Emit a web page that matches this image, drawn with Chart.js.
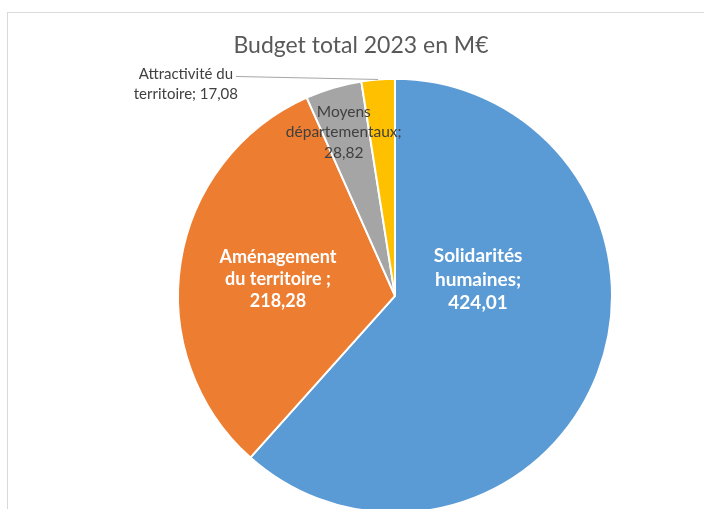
<!DOCTYPE html>
<html>
<head>
<meta charset="utf-8">
<script src="https://cdn.jsdelivr.net/npm/chart.js@4/dist/chart.umd.min.js"></script>
<style>
    html, body { margin: 0; padding: 0; background: #fff; overflow: hidden; }
    #frame { position: absolute; left: 7px; top: 12px; width: 716px; height: 530px; border: 1px solid #d9d9d9; box-sizing: border-box; }
    #chart-box { position: absolute; left: 0; top: 0; width: 706px; height: 511px; }
</style>
</head>
<body>
<div id="frame"><div id="chart-box"><canvas id="budget-chart"></canvas></div></div>
<script>
const categories = [["Solidarités", "humaines"], ["Aménagement", "du territoire "], ["Moyens", "départementaux"], ["Attractivité du", "territoire"]];
const budgetValues = [424.01, 218.28, 28.82, 17.08];
const sliceColors = ["#5b9bd5", "#ed7d31", "#a5a5a5", "#ffc000"];
const chartTitle = "Budget total 2023 en M€";

// where each data label sits: angle (deg) and distance as a share of the radius
const labelPlacement = [
    { angle: -10.9, dist: 0.39, color: "#ffffff", bold: true, size: 19, lineHeight: 23.5 },
    { angle: 188.3, dist: 0.545, color: "#ffffff", bold: true, size: 18, lineHeight: 22 },
    { angle: -107.4, dist: 0.79, color: "#404040", bold: false, size: 15.5, lineHeight: 20.5 },
    { angle: -134.7, dist: 1.37, color: "#404040", bold: false, size: 15, lineHeight: 20, inline: true, leader: true }
];

function formatValue(value) {
    return Number(value).toLocaleString("fr-FR", { minimumFractionDigits: 2, maximumFractionDigits: 2 });
}

function labelLines(index) {
    const lines = [...categories[index]];
    const last = lines.length - 1;
    if (labelPlacement[index].inline) {
        lines[last] = `${lines[last]}; ${formatValue(budgetValues[index])}`;
    } else {
        lines[last] = `${lines[last]};`;
        lines.push(formatValue(budgetValues[index]));
    }
    return lines;
}

// empty box on the left so the pie sits right of the title's centre
const pieShift = {
    id: "pieShift",
    beforeInit(chart, args, opts) {
        Chart.layouts.addBox(chart, {
            position: "left", weight: 100, fullSize: false, options: {},
            width: 0, height: 0, top: 0, left: 0, right: 0, bottom: 0,
            isHorizontal: () => false,
            update(maxWidth, maxHeight) { this.width = opts.width; this.height = maxHeight; },
            draw() {}
        });
    }
};

const sliceLabels = {
    id: "sliceLabels",
    afterDatasetsDraw(chart) {
        const { ctx } = chart;
        chart.getDatasetMeta(0).data.forEach((arc, index) => {
            const { x, y, outerRadius, startAngle, endAngle } = arc.getProps(["x", "y", "outerRadius", "startAngle", "endAngle"], true);
            const place = labelPlacement[index];
            const angle = place.angle * Math.PI / 180;
            const cx = x + Math.cos(angle) * outerRadius * place.dist;
            const cy = y + Math.sin(angle) * outerRadius * place.dist;
            const lines = labelLines(index);
            ctx.save();
            ctx.font = `${place.bold ? "bold " : ""}${place.size}px Lato, "Open Sans", sans-serif`;
            ctx.fillStyle = place.color;
            ctx.textAlign = "center";
            ctx.textBaseline = "middle";
            const top = cy - (lines.length - 1) * place.lineHeight / 2;
            lines.forEach((line, i) => ctx.fillText(line, cx, top + i * place.lineHeight));
            if (place.leader) {
                const mid = (startAngle + endAngle) / 2;
                const width = ctx.measureText(lines[0]).width;
                ctx.strokeStyle = "#a6a6a6";
                ctx.lineWidth = 1;
                ctx.beginPath();
                ctx.moveTo(cx + width / 2 + 3, top + 2);
                ctx.lineTo(x + Math.cos(mid) * outerRadius, y + Math.sin(mid) * outerRadius);
                ctx.stroke();
            }
            ctx.restore();
        });
    }
};

new Chart(document.querySelector("#budget-chart"), {
    type: "pie",
    data: {
        labels: categories,
        datasets: [{ data: budgetValues, backgroundColor: sliceColors, borderColor: "#ffffff", borderWidth: 2, clip: false }]
    },
    options: {
        responsive: true,
        maintainAspectRatio: false,
        animation: false,
        radius: 217,
        events: [],
        plugins: {
            pieShift: { width: 68 },
            legend: { display: false },
            tooltip: { enabled: false },
            title: {
                display: true,
                text: chartTitle,
                color: "#595959",
                font: { family: "Lato, 'Open Sans', sans-serif", size: 23, weight: "normal", lineHeight: 1.2 },
                padding: { top: 19, bottom: 8 }
            }
        }
    },
    plugins: [pieShift, sliceLabels]
});
</script>
</body>
</html>
